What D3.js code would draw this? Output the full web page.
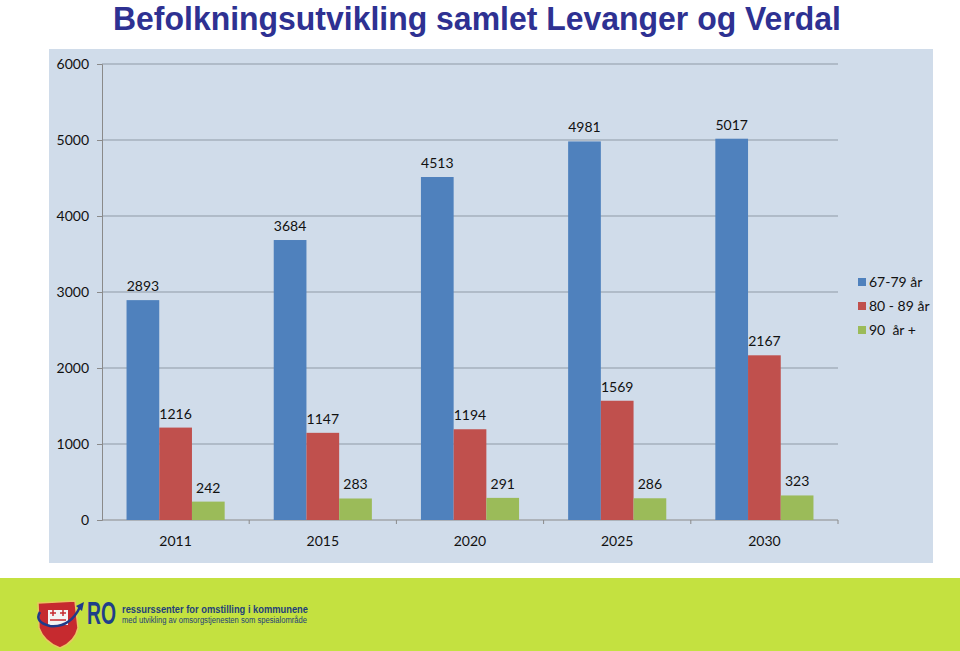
<!DOCTYPE html>
<html><head><meta charset="utf-8">
<script src="https://cdn.jsdelivr.net/npm/d3@7"></script>
<style>
html,body{margin:0;padding:0;background:#fff;}
svg{display:block;}
</style></head>
<body>
<svg id="c" width="960" height="651"></svg>
<script>
const title = "Befolkningsutvikling samlet Levanger og Verdal";
const categories = ["2011","2015","2020","2025","2030"];
const seriesNames = ["67-79 år","80 - 89 år","90  år +"];
const s6779 = [2893,3684,4513,4981,5017];
const s8089 = [1216,1147,1194,1569,2167];
const s90 = [242,283,291,286,323];
const yTicks = [0,1000,2000,3000,4000,5000,6000];
const colors = ["#4f81bd","#c0504d","#9bbb59"];
const series = [s6779,s8089,s90];

const svg = d3.select("#c");
const font = "Lato, 'Open Sans', sans-serif";
const fs = 14;

// title
svg.append("text").attr("x",113).attr("y",30)
  .attr("font-family","'Liberation Sans',Arial,sans-serif")
  .attr("font-weight","bold").attr("font-size",33).attr("fill","#2e3192")
  .attr("textLength",728).attr("lengthAdjust","spacingAndGlyphs")
  .text(title);

// panel
svg.append("rect").attr("x",49).attr("y",49).attr("width",884).attr("height",514).attr("fill","#d0dcea");

const pL=102, pR=838, pT=64, pB=520;
const x = d3.scaleBand().domain(categories).range([pL,pR]).paddingInner(0).paddingOuter(0);
const y = d3.scaleLinear().domain([0,6000]).range([pB,pT]);

// gridlines
svg.append("g").selectAll("line").data(yTicks.filter(d=>d>0)).join("line")
  .attr("x1",pL).attr("x2",pR).attr("y1",d=>y(d)).attr("y2",d=>y(d))
  .attr("stroke","#8f9aa6").attr("stroke-width",1);

// y axis
const yAxis = d3.axisLeft(y).tickValues(yTicks).tickSize(5).tickPadding(8).tickFormat(d3.format("d"));
const gy = svg.append("g").attr("transform",`translate(${pL},0)`).call(yAxis);
gy.select(".domain").attr("stroke","#8a8a8a");
gy.selectAll(".tick line").attr("stroke","#8a8a8a");
gy.selectAll("text").attr("font-family",font).attr("font-size",fs).attr("fill","#111");

// x axis
const gx = svg.append("g").attr("transform",`translate(0,${pB})`);
gx.append("line").attr("x1",pL).attr("x2",pR).attr("stroke","#8a8a8a");
const bounds = categories.map((c,i)=>x(c)+x.bandwidth());
gx.selectAll("line.tk").data(bounds).join("line").attr("class","tk")
  .attr("x1",d=>d).attr("x2",d=>d).attr("y1",0).attr("y2",4).attr("stroke","#8a8a8a");
gx.selectAll("text").data(categories).join("text")
  .attr("x",d=>x(d)+x.bandwidth()/2).attr("y",26).attr("text-anchor","middle")
  .attr("font-family",font).attr("font-size",fs).attr("fill","#111").text(d=>d);

// bars
const inner = d3.scaleBand().domain(d3.range(3)).range([0,x.bandwidth()]).paddingOuter(0.75).paddingInner(0);
series.forEach((vals,si)=>{
  const g = svg.append("g");
  g.selectAll("rect").data(vals).join("rect")
    .attr("x",(d,i)=>x(categories[i])+inner(si))
    .attr("width",inner.bandwidth())
    .attr("y",d=>y(d)).attr("height",d=>pB-y(d))
    .attr("fill",colors[si]);
  g.selectAll("text").data(vals).join("text")
    .attr("x",(d,i)=>x(categories[i])+inner(si)+inner.bandwidth()/2)
    .attr("y",d=>y(d)-9).attr("text-anchor","middle")
    .attr("font-family",font).attr("font-size",fs).attr("fill","#111").text(d=>d);
});

// legend
const lg = svg.append("g").attr("transform","translate(858,282)");
seriesNames.forEach((n,i)=>{
  lg.append("rect").attr("x",0).attr("y",i*24-4).attr("width",8).attr("height",8).attr("fill",colors[i]);
  lg.append("text").attr("x",11).attr("y",i*24+5).attr("font-family",font).attr("font-size",fs)
    .attr("fill","#111").style("white-space","pre").text(n);
});

// footer banner
svg.append("rect").attr("x",0).attr("y",578).attr("width",960).attr("height",73).attr("fill","#c4e140");
const logo = svg.append("g");
logo.append("path").attr("d","M38,603 L75,601 L78,628 Q75,642 60,648 Q44,642 39,628 Z")
  .attr("fill","#c62a2f").attr("stroke","#e8c860").attr("stroke-width",1.5);
logo.append("rect").attr("x",48).attr("y",610).attr("width",20).attr("height",15).attr("fill","#f3f3f3");
logo.append("path").attr("d","M50,613 h6 M60,613 h6 M53,610 v6 M63,610 v6 M50,620 h16").attr("stroke","#c62a2f").attr("stroke-width",1.5);
logo.append("path").attr("d","M40,612 Q34,622 50,626 Q70,628 80,607").attr("fill","none").attr("stroke","#1f3a8a").attr("stroke-width",2.5);
logo.append("path").attr("d","M76,606 L84,602 L82,611 Z").attr("fill","#1f3a8a");
logo.append("text").attr("x",87).attr("y",624).attr("font-family","'Liberation Sans',sans-serif")
  .attr("font-weight","bold").attr("font-size",32).attr("fill","#1f3f8a")
  .attr("textLength",29).attr("lengthAdjust","spacingAndGlyphs").text("RO");
logo.append("text").attr("x",122).attr("y",613).attr("font-family","'Liberation Sans',sans-serif")
  .attr("font-weight","bold").attr("font-size",10.5).attr("fill","#1f3f7a")
  .attr("textLength",186).attr("lengthAdjust","spacingAndGlyphs").text("ressurssenter for omstilling i kommunene");
logo.append("text").attr("x",122).attr("y",622.5).attr("font-family","'Liberation Sans',sans-serif")
  .attr("font-size",8.5).attr("fill","#1f3f7a")
  .attr("textLength",185).attr("lengthAdjust","spacingAndGlyphs").text("med utvikling av omsorgstjenesten som spesialområde");
</script>
</body></html>
